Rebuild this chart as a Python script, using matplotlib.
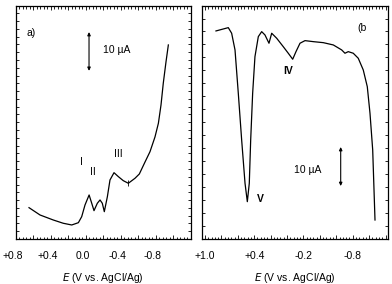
import numpy as np
import matplotlib
matplotlib.use('Agg')
import matplotlib.pyplot as plt
import matplotlib.transforms as mtransforms
from matplotlib.ticker import MultipleLocator, FuncFormatter

plt.rcParams['font.family'] = ['Liberation Sans', 'DejaVu Sans']
plt.rcParams['font.size'] = 7.5

# panel a) : potential (V) and current (uA)
Ea = [0.651, 0.525, 0.373, 0.259, 0.162, 0.086, 0.048, 0.010, -0.037, -0.067,
      -0.093, -0.131, -0.162, -0.188, -0.211, -0.246, -0.276, -0.322, -0.372,
      -0.428, -0.486, -0.562, -0.612, -0.677, -0.734, -0.791, -0.830, -0.860,
      -0.886, -0.917, -0.944]
Ia = [8.05, 6.17, 4.88, 4.04, 3.60, 4.19, 5.73, 8.74, 11.31, 9.18,
      7.28, 9.18, 10.03, 9.18, 7.02, 10.87, 15.17, 17.04, 16.02,
      14.99, 14.32, 15.60, 16.71, 19.79, 22.44, 26.22, 29.74, 34.45,
      40.03, 45.50, 49.87]

# panel b)
Eb = [0.866, 0.716, 0.675, 0.634, 0.594, 0.553, 0.512, 0.484, 0.460, 0.443,
      0.419, 0.391, 0.350, 0.309, 0.269, 0.220, 0.187, 0.126, 0.046, -0.015,
      -0.069, -0.109, -0.158, -0.219, -0.320, -0.442, -0.564, -0.666, -0.706,
      -0.746, -0.807, -0.868, -0.929, -0.978, -1.011, -1.044, -1.072]
Ib = [53.47, 54.32, 52.88, 48.59, 37.46, 25.45, 14.32, 9.59, 14.32, 25.45,
      37.46, 46.86, 52.01, 53.29, 52.44, 50.31, 52.88, 51.59, 49.43, 47.74,
      46.20, 48.15, 50.31, 50.98, 50.72, 50.46, 49.87, 48.59, 47.74,
      48.15, 47.74, 46.45, 43.44, 39.15, 32.31, 22.88, 4.88]

labels_a = [0.8, 0.4, 0.0, -0.4, -0.8]
labels_b = [1.0, 0.4, -0.2, -0.8]


def fmt(v):
    if abs(v) < 1e-9:
        return "0.0"
    return ("+%.1f" % v) if v > 0 else ("-%.1f" % abs(v))


def setup(ax, xlim, labvals, ystep):
    ax.set_xlim(xlim)
    ax.set_ylim(0, 60)
    ax.xaxis.set_major_locator(MultipleLocator(0.2))
    ax.xaxis.set_minor_locator(MultipleLocator(0.04))
    ax.xaxis.set_major_formatter(FuncFormatter(
        lambda v, p: fmt(v) if any(abs(v - l) < 1e-6 for l in labvals) else ""))
    ax.yaxis.set_major_locator(MultipleLocator(ystep))
    ax.set_yticklabels([])
    ax.tick_params(which='both', direction='in', top=True, right=True,
                   width=0.6, labelsize=7.5, pad=9)
    ax.tick_params(which='major', length=3)
    ax.tick_params(which='minor', length=1.8)
    ax.tick_params(axis='y', which='major', length=2)
    for s in ax.spines.values():
        s.set_linewidth(0.9)
    ax.set_xlabel(r"$E$ (V vs. AgCl/Ag)", fontsize=7.5, labelpad=7)


def scale_bar(ax, x, y0, y1):
    ax.annotate("", xy=(x, y0), xytext=(x, y1),
                arrowprops=dict(arrowstyle='<|-|>,head_length=0.25,head_width=0.12',
                                lw=0.8, color='black', shrinkA=0, shrinkB=0))


fig = plt.figure(figsize=(3.92, 2.84), dpi=100)
axa = fig.add_axes([0.0408, 0.1585, 0.4457, 0.822])
axb = fig.add_axes([0.516, 0.1585, 0.4737, 0.822])

axa.plot(Ea, Ia, color='black', lw=0.9)
axa.plot([-0.486], [14.32], marker='|', color='black', ms=4, mew=0.6)
setup(axa, (0.8, -1.2), labels_a, 2)
# tick labels of panel a sit a little left of their ticks
shift = mtransforms.ScaledTranslation(-0.03, 0, fig.dpi_scale_trans)
for lab in axa.get_xticklabels():
    lab.set_transform(lab.get_transform() + shift)
axa.text(0.677, 52.9, "a)", ha='left', va='center')
axa.text(-0.199, 48.6, "10 µA", ha='left', va='center')
scale_bar(axa, -0.036, 53.2, 43.2)
axa.text(0.056, 19.8, "I", ha='center', va='center')
axa.text(-0.085, 17.2, "II", ha='center', va='center')
axa.text(-0.372, 21.9, "III", ha='center', va='center')

axb.plot(Eb, Ib, color='black', lw=0.9)
setup(axb, (1.033, -1.23), labels_b, 10 / 3)
axb.text(-0.910, 54.2, "(b", ha='center', va='center')
axb.text(-0.008, 43.3, "IV", ha='center', va='center', fontweight='bold')
axb.text(0.321, 10.2, "V", ha='center', va='center', fontweight='bold')
axb.text(-0.249, 17.7, "10 µA", ha='center', va='center')
scale_bar(axb, -0.654, 23.65, 13.6)

fig.savefig("out.png", dpi=100)
